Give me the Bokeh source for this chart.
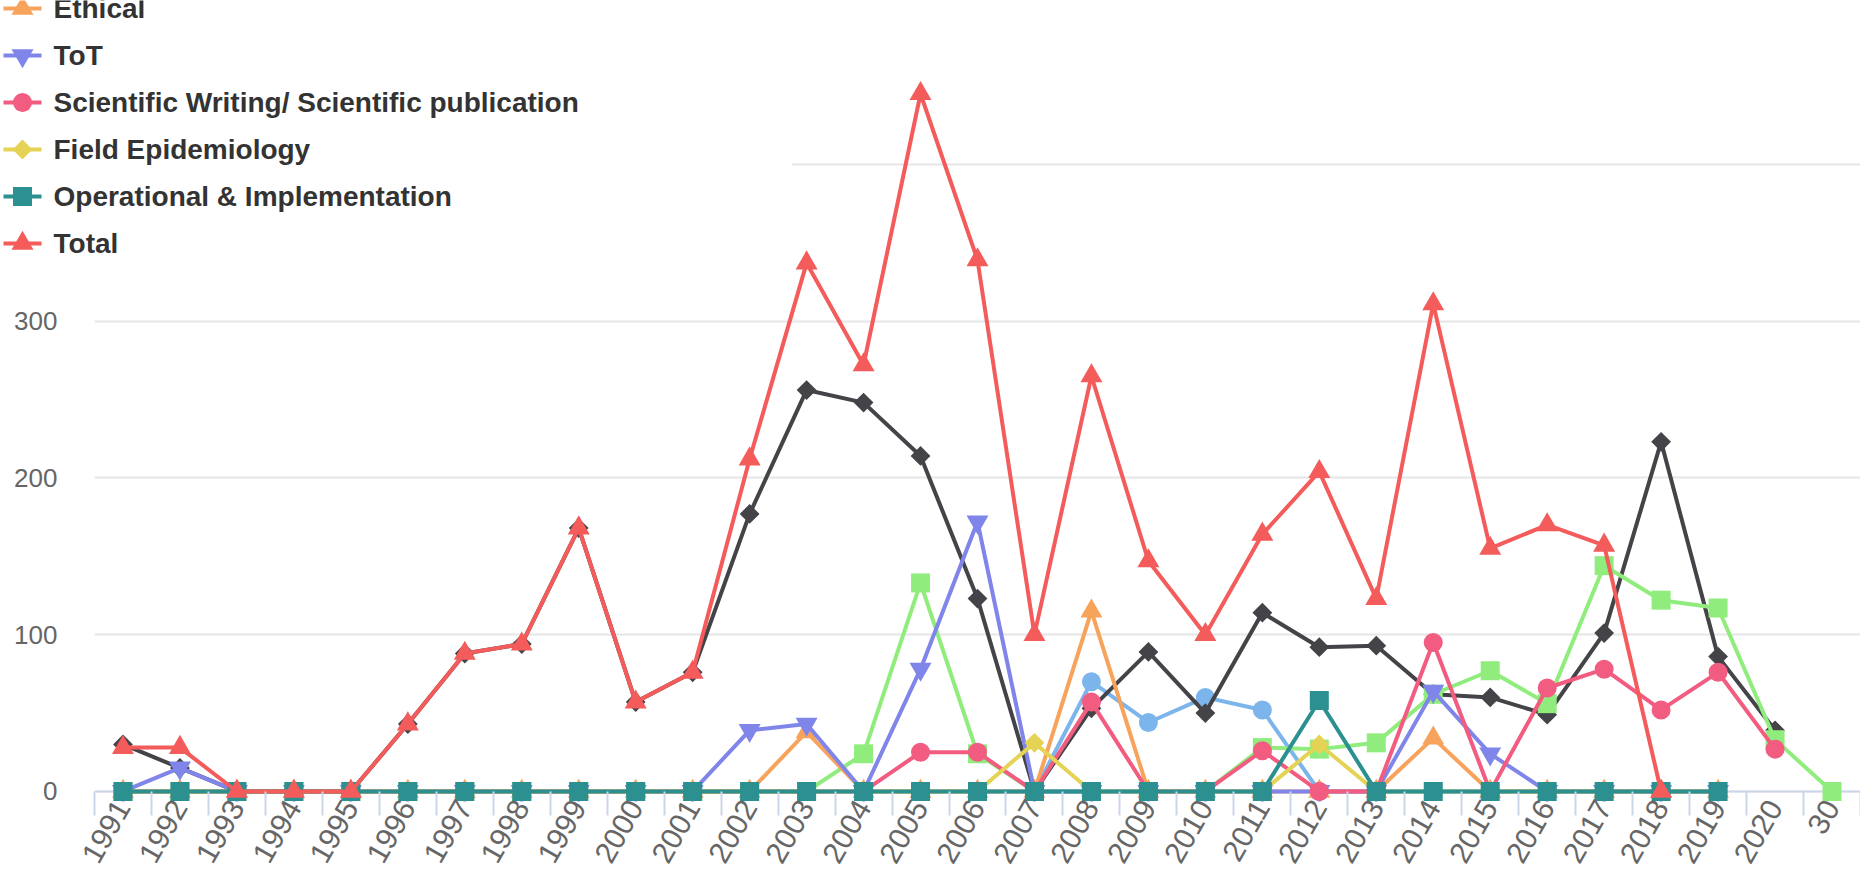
import math
from bokeh.plotting import figure
from bokeh.models import FixedTicker, ColumnDataSource, Span
from bokeh.core.properties import value
from bokeh.embed import file_html
from bokeh.resources import INLINE

categories = ["1991", "1992", "1993", "1994", "1995", "1996", "1997", "1998", "1999", "2000",
              "2001", "2002", "2003", "2004", "2005", "2006", "2007", "2008", "2009", "2010",
              "2011", "2012", "2013", "2014", "2015", "2016", "2017", "2018", "2019", "2020", "30"]

# values per category (None = no point)
s_lightblue = [0, 0, 0, 0, 0, 0, 0, 0, 0, 0, 0, 0, 0, 0, 0, 0,
               0, 70, 44, 60, 52, 0, 0, 0, 0, 0, 0, 0, 0, None, None]
s_black = [30, 15, 0, 0, 0, 43, 88, 94, 168, 57, 76, 177, 256, 248, 214, 123,
           0, 53, 89, 50, 114, 92, 93, 62, 60, 49, 101, 223, 86, 39, None]
s_green = [0, 0, 0, 0, 0, 0, 0, 0, 0, 0, 0, 0, 0, 24, 133, 24,
           0, 0, 0, 0, 28, 27, 31, 62, 77, 56, 144, 122, 117, 33, 0]
ethical = [0, 0, 0, 0, 0, 0, 0, 0, 0, 0, 0, 0, 38, 0, 0, 0,
           0, 115, 0, 0, 0, 0, 0, 34, 0, 0, 0, 0, 0, None, None]
tot = [0, 15, 0, 0, 0, 0, 0, 0, 0, 0, 0, 39, 43, 0, 78, 172,
       0, 0, 0, 0, 0, 0, 0, 64, 24, 0, 0, 0, 0, None, None]
sci_writing = [0, 0, 0, 0, 0, 0, 0, 0, 0, 0, 0, 0, 0, 0, 25, 25,
               0, 57, 0, 0, 26, 0, 0, 95, 0, 66, 78, 52, 76, 27, None]
field_epi = [0, 0, 0, 0, 0, 0, 0, 0, 0, 0, 0, 0, 0, 0, 0, 0,
             31, 0, 0, 0, 0, 30, 0, 0, 0, 0, 0, 0, 0, None, None]
operational = [0, 0, 0, 0, 0, 0, 0, 0, 0, 0, 0, 0, 0, 0, 0, 0,
               0, 0, 0, 0, 0, 58, 0, 0, 0, 0, 0, 0, 0, None, None]
total = [28, 28, 0, 0, 0, 43, 88, 94, 168, 57, 76, 212, 337, 272, 445, 339,
         100, 265, 147, 100, 164, 204, 123, 311, 155, 170, 157, 0, None, None, None]

series = [
    (None, s_lightblue, "#7cb5ec", "circle"),
    (None, s_black, "#434348", "diamond"),
    (None, s_green, "#90ed7d", "square"),
    ("Ethical", ethical, "#f7a35c", "triangle"),
    ("ToT", tot, "#8085e9", "inverted_triangle"),
    ("Scientific Writing/ Scientific publication", sci_writing, "#f15c80", "circle"),
    ("Field Epidemiology", field_epi, "#e4d354", "diamond"),
    ("Operational & Implementation", operational, "#2b908f", "square"),
    ("Total", total, "#f45b5b", "triangle"),
]

y_ticks = [0, 100, 200, 300, 400, 500]

FONT = "Liberation Sans"
W, H = 1860, 879


def add_marker(fig, src, marker, color):
    if marker == "diamond":
        return fig.scatter("x", "y", source=src, marker="square", angle=math.pi / 4,
                           size=14, fill_color=color, line_color=None)
    if marker in ("triangle", "inverted_triangle"):
        return fig.scatter("x", "y", source=src, marker=marker, size=22,
                           fill_color=color, line_color=None)
    return fig.scatter("x", "y", source=src, marker=marker, size=19,
                       fill_color=color, line_color=None)


# y range reaches a little below 0 so that markers sitting on the baseline are not clipped
fig = figure(width=W, height=H, output_backend="svg", toolbar_location=None,
             x_range=(-0.5, len(categories) - 0.5), y_range=(-6.4, 500),
             min_border_left=94, min_border_right=0, min_border_top=7, min_border_bottom=78)
fig.outline_line_color = None
fig.background_fill_color = "white"
fig.border_fill_color = "white"

xa = fig.xaxis[0]
xa.ticker = FixedTicker(ticks=list(range(len(categories))),
                        minor_ticks=[i - 0.5 for i in range(len(categories) + 1)])
xa.major_label_overrides = {i: c for i, c in enumerate(categories)}
xa.major_tick_out = 0
xa.major_tick_in = 0
xa.minor_tick_out = 14
xa.minor_tick_in = 10
xa.minor_tick_line_color = "#ccd6eb"
xa.minor_tick_line_width = 2
xa.axis_line_color = None
xa.major_label_orientation = 1.05
xa.major_label_text_font = FONT
xa.major_label_text_font_size = "30px"
xa.major_label_text_color = "#666666"
xa.major_label_standoff = -13

ya = fig.yaxis[0]
ya.ticker = FixedTicker(ticks=y_ticks)
ya.major_label_overrides = {400: "", 500: ""}
ya.axis_line_color = None
ya.major_tick_out = 0
ya.major_tick_in = 0
ya.minor_tick_out = 0
ya.minor_tick_in = 0
ya.major_label_text_font = FONT
ya.major_label_text_font_size = "26px"
ya.major_label_text_color = "#666666"
ya.major_label_standoff = 37

fig.xgrid.visible = False
fig.ygrid.grid_line_color = "#e6e6e6"
fig.ygrid.grid_line_width = 2

# x-axis line along the zero value
baseline = Span(location=0, dimension="width", line_color="#ccd6eb", line_width=2,
                level="underlay")
fig.add_layout(baseline)

for name, vals, color, marker in series:
    xs = [i for i, v in enumerate(vals) if v is not None]
    ys = [v for v in vals if v is not None]
    src = ColumnDataSource(dict(x=xs, y=ys))
    fig.line("x", "y", source=src, line_color=color, line_width=4, line_join="round")
    add_marker(fig, src, marker, color)

# legend box overlaid on the top-left corner (pixel coordinates inside the box)
LEG_W, LEG_H = 792, 267
ROW0, ROW_STEP = 8, 47
lf = figure(width=LEG_W, height=LEG_H, output_backend="svg", toolbar_location=None,
            x_axis_location=None, y_axis_location=None,
            min_border_left=0, min_border_right=0, min_border_top=0, min_border_bottom=0,
            x_range=(0, LEG_W), y_range=(LEG_H, 0),
            styles={"position": "absolute", "left": "0px", "top": "0px", "z-index": "5"})
lf.outline_line_color = None
lf.grid.visible = False
lf.background_fill_color = "white"
lf.border_fill_color = "white"

leg_names = []
leg_rows = []
row = 0
for name, vals, color, marker in series:
    if name is None:
        continue
    yc = ROW0 + ROW_STEP * row
    lf.line(x=[3, 41], y=[yc, yc], line_color=color, line_width=4)
    add_marker(lf, ColumnDataSource(dict(x=[22], y=[yc])), marker, color)
    leg_names.append(name)
    leg_rows.append(yc)
    row += 1

lf.text(x=[53] * len(leg_names), y=leg_rows, text=leg_names,
        text_font=value(FONT), text_font_style="bold", text_font_size="28px",
        text_color="#333333", text_baseline="middle", text_align="left")

p = [fig, lf]
open("out.html", "w").write(file_html(p, INLINE))
